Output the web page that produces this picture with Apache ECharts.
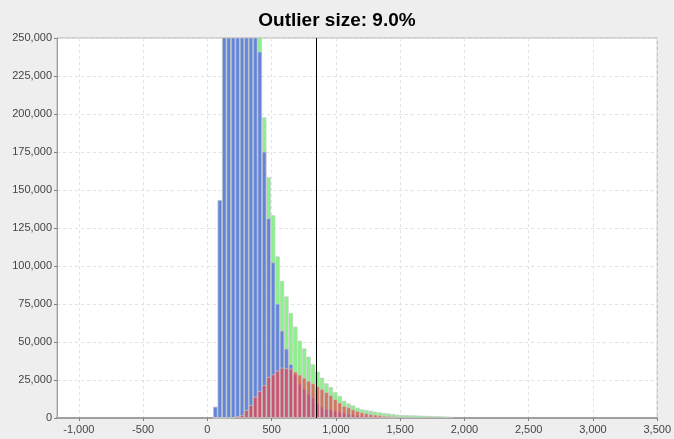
<!DOCTYPE html>
<html>
<head>
<meta charset="utf-8">
<script src="https://cdn.jsdelivr.net/npm/echarts@6/dist/echarts.min.js"></script>
<style>
    html, body { margin: 0; padding: 0; background: #eeeeee; }
    #chart { width: 674px; height: 439px; }
</style>
</head>
<body>
<div id="chart"></div>
<script>
// histogram bins: first bin edge and width (x units)
let bin_start = 45
let bin_width = 34.55

// all values (green), inliers (blue), outliers (red); bins 2-10 run past the top
let all_counts = [7400, 143400, 300000, 345000, 375000, 385000, 375000, 355000, 330000, 295000,
    259000, 197800, 158400, 133400, 106400, 90200, 80000, 69000, 60100, 50900,
    45800, 40400, 35300, 30500, 26500, 22800, 20400, 17000, 14500, 11400,
    9600, 8300, 6800, 5700, 5300, 4800, 4200, 3700, 3300, 3000,
    2600, 2200, 2000, 1900, 1800, 1700, 1600, 1500, 1400, 1300,
    1200, 1100, 1000, 900]
let inlier_counts = [7400, 143400, 300000, 345000, 374600, 383700, 373000, 349700, 321500, 281000,
    241000, 175200, 131400, 102400, 75200, 57500, 45600, 35500, 29000, 22500,
    19300, 16000, 13500, 9500, 7500, 5800, 5700, 4800, 4200, 3500,
    2600, 2400, 2000, 1500, 1300, 1000, 800, 600, 500, 400,
    300]
let outlier_counts = [0, 0, 0, 200, 400, 1300, 2000, 5300, 8500, 14000,
    17800, 21700, 27000, 28700, 31100, 33100, 32700, 32500, 30500, 28500,
    26500, 24500, 22800, 21000, 19000, 17000, 15100, 12300, 10100, 7900,
    7000, 5700, 4600, 3700, 3100, 2600, 2200, 1800, 1500, 1300,
    1100, 900, 800, 700, 600, 500]

let threshold = 846
let x_ticks = [-1000, -500, 0, 500, 1000, 1500, 2000, 2500, 3000, 3500]

function to_points(counts) {
    let pts = []
    for (let i = 0; i < counts.length; i++) {
        pts.push([bin_start + bin_width * (i + 0.5), counts[i]])
    }
    return pts
}

function fmt(v) {
    return Number(v).toLocaleString('en-US')
}

let bar_px = 4.45
let outline = {borderColor: 'rgba(200,200,200,0.85)', borderWidth: 0.8}

let option = {
    animation: false,
    backgroundColor: '#eeeeee',
    title: {
        text: 'Outlier size: 9.0%',
        left: 'center',
        top: 6,
        textStyle: {
            fontFamily: 'Liberation Sans Narrow, Liberation Sans, Arial, sans-serif',
            fontSize: 19,
            fontWeight: 'bold',
            color: '#000'
        }
    },
    grid: {
        left: 57,
        right: 15,
        top: 38,
        bottom: 21,
        show: true,
        backgroundColor: '#ffffff',
        borderColor: '#b0b0b0',
        borderWidth: 1
    },
    xAxis: {
        type: 'value',
        min: -1170,
        max: 3500,
        axisLine: {show: true, onZero: false, lineStyle: {color: '#a0a0a0', width: 2}},
        axisTick: {show: true, length: 3, customValues: x_ticks, lineStyle: {color: '#808080'}},
        axisLabel: {
            customValues: x_ticks,
            formatter: fmt,
            color: '#444',
            fontFamily: 'Liberation Sans, Arial, sans-serif',
            fontSize: 11,
            margin: 6
        },
        splitLine: {show: true, lineStyle: {color: '#e2e2e2', type: [3, 3]}}
    },
    yAxis: {
        type: 'value',
        min: 0,
        max: 250000,
        interval: 25000,
        axisLine: {show: true, onZero: false, lineStyle: {color: '#a0a0a0'}},
        axisTick: {show: true, length: 3, lineStyle: {color: '#808080'}},
        axisLabel: {
            formatter: fmt,
            color: '#444',
            fontFamily: 'Liberation Sans, Arial, sans-serif',
            fontSize: 11,
            margin: 5
        },
        splitLine: {show: true, lineStyle: {color: '#e2e2e2', type: [3, 3]}}
    },
    series: [
        {
            name: 'All',
            type: 'bar',
            data: to_points(all_counts),
            barWidth: bar_px,
            barGap: '-100%',
            itemStyle: Object.assign({color: '#88f488'}, outline),
            markLine: {
                silent: true,
                symbol: 'none',
                label: {show: false},
                lineStyle: {color: '#000', width: 1, type: 'solid'},
                data: [{xAxis: threshold}]
            }
        },
        {
            name: 'Inliers',
            type: 'bar',
            data: to_points(inlier_counts),
            barWidth: bar_px,
            barGap: '-100%',
            itemStyle: Object.assign({color: '#6384dc'}, outline)
        },
        {
            name: 'Outliers',
            type: 'bar',
            data: to_points(outlier_counts),
            barWidth: bar_px,
            barGap: '-100%',
            itemStyle: Object.assign({color: 'rgba(240,65,70,0.7)'}, outline)
        }
    ]
}

const dom = document.getElementById('chart')
const myChart = echarts.init(dom)
myChart.setOption(option, true)
</script>
</body>
</html>
